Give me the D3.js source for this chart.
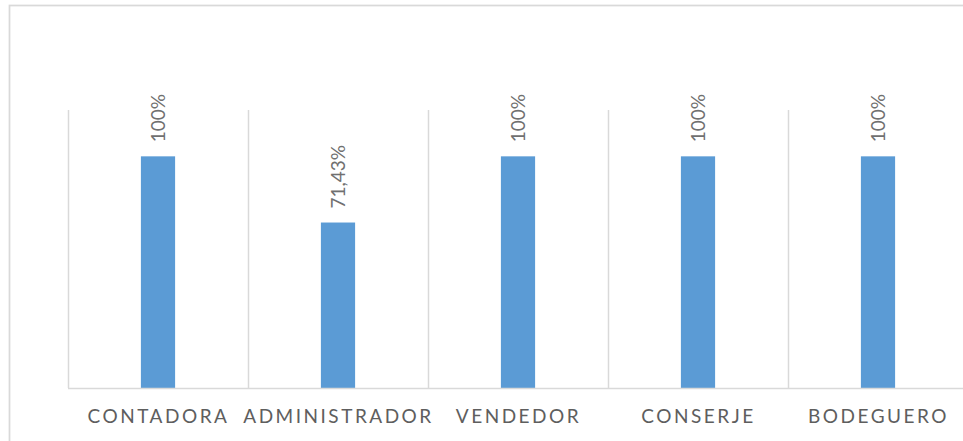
<!DOCTYPE html>
<html>
<head>
<meta charset="utf-8">
<script src="https://cdn.jsdelivr.net/npm/d3@7"></script>
<style>
  html, body { margin: 0; padding: 0; background: #fff; overflow: hidden; }
  svg { display: block; }
</style>
</head>
<body>
<svg id="chart" width="963" height="441"></svg>
<script>
const categories = ["CONTADORA", "ADMINISTRADOR", "VENDEDOR", "CONSERJE", "BODEGUERO"];
const values = [1.0, 0.7143, 1.0, 1.0, 1.0];
const valueLabels = ["100%", "71,43%", "100%", "100%", "100%"];

const svg = d3.select("#chart");
const plot = { left: 68, right: 968, top: 110, bottom: 388 };

// chart area border
svg.append("rect")
  .attr("x", 9.5).attr("y", 5.5)
  .attr("width", 1000).attr("height", 500)
  .attr("fill", "#fff")
  .attr("stroke", "#D9D9D9").attr("stroke-width", 1.75);

const x = d3.scaleBand().domain(categories).range([plot.left, plot.right]).padding(0);
const y = d3.scaleLinear().domain([0, 1.2]).range([plot.bottom, plot.top]);

// vertical category gridlines
const bounds = categories.map(c => x(c)).concat([x(categories[categories.length - 1]) + x.bandwidth()]);
svg.append("g").selectAll("line").data(bounds).join("line")
  .attr("x1", d => Math.round(d) + 0.5).attr("x2", d => Math.round(d) + 0.5)
  .attr("y1", y(1.2)).attr("y2", y(0))
  .attr("stroke", "#D9D9D9").attr("stroke-width", 1.5);

// bars
const barW = x.bandwidth() * 0.19;
svg.append("g").selectAll("rect").data(categories).join("rect")
  .attr("x", (c) => x(c) + x.bandwidth() / 2 - barW / 2)
  .attr("y", (c, i) => y(values[i]))
  .attr("width", barW)
  .attr("height", (c, i) => y(0) - y(values[i]))
  .attr("fill", "#5B9BD5");

// baseline
svg.append("line")
  .attr("x1", plot.left).attr("x2", plot.right)
  .attr("y1", y(0) + 0.5).attr("y2", y(0) + 0.5)
  .attr("stroke", "#D9D9D9").attr("stroke-width", 1.5);

// data labels (rotated)
svg.append("g").selectAll("text").data(categories).join("text")
  .attr("transform", (c, i) => `translate(${x(c) + x.bandwidth() / 2 + 7},${y(values[i]) - 14}) rotate(-90)`)
  .attr("text-anchor", "start")
  .attr("font-family", "Lato, 'Open Sans', sans-serif")
  .attr("font-size", 19)
  .attr("fill", "#707070")
  .text((c, i) => valueLabels[i]);

// category axis labels
svg.append("g").selectAll("text").data(categories).join("text")
  .attr("x", c => x(c) + x.bandwidth() / 2 + 0.5)
  .attr("y", 423)
  .attr("text-anchor", "middle")
  .attr("font-family", "Lato, 'Open Sans', sans-serif")
  .attr("font-size", 19)
  .attr("letter-spacing", "2.5px")
  .attr("fill", "#5E5E5E")
  .text(c => c);
</script>
</body>
</html>
